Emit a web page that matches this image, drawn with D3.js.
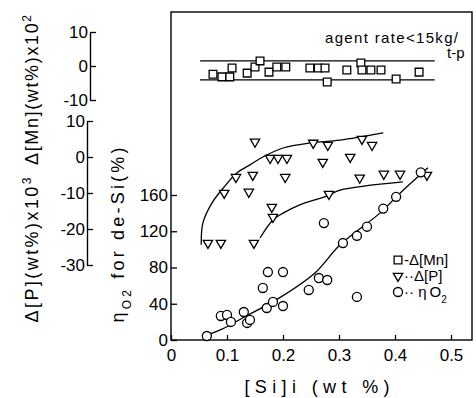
<!DOCTYPE html>
<html>
<head>
<meta charset="utf-8">
<script src="https://cdn.jsdelivr.net/npm/d3@7"></script>
<style>
  body { margin: 0; background: #fff; }
  svg { font-family: "Liberation Sans", "DejaVu Sans", sans-serif; }
</style>
</head>
<body>
<svg id="chart" width="476" height="398"></svg>
<script>
// [Si]i values and the three measured series
var siMn = [0.075, 0.091, 0.105, 0.109, 0.136, 0.150, 0.159, 0.175, 0.189, 0.205, 0.248, 0.263, 0.275, 0.279, 0.314, 0.339, 0.341, 0.357, 0.375, 0.402, 0.443];
var dMn  = [-2.4, -3.2, -3.2, -0.6, -2.1, -0.3, 1.5, -1.8, -0.3, -0.3, -0.6, -0.6, -0.6, -4.7, -1.2, 0.9, -1.2, -1.2, -1.2, -3.8, -1.8];

var siP = [0.150, 0.177, 0.191, 0.207, 0.254, 0.280, 0.341, 0.359, 0.271, 0.320, 0.116, 0.146, 0.204, 0.095, 0.139, 0.180, 0.182, 0.282, 0.337, 0.380, 0.409, 0.457, 0.066, 0.089, 0.148];
var dP  = [4.2, -0.3, -0.3, -0.3, 3.9, 3.3, 5.0, 3.3, -1.4, 0, -5.6, -5.0, -5.6, -10, -9.7, -13.9, -16.7, -10.3, -5.8, -4.7, -4.7, -5.0, -23.9, -23.9, -23.9];

var siEta = [0.064, 0.089, 0.100, 0.107, 0.130, 0.136, 0.141, 0.164, 0.173, 0.200, 0.171, 0.182, 0.200, 0.246, 0.264, 0.279, 0.332, 0.273, 0.307, 0.332, 0.350, 0.379, 0.402, 0.446];
var eta   = [4.4, 26.5, 27.6, 19.9, 30.9, 18.8, 22.1, 57.4, 75, 75, 35.3, 42, 37.5, 55.2, 68.4, 66.2, 47.5, 129, 107, 115, 125, 145, 158, 185];

// hand drawn trend lines
var mnBandX = [0.052, 0.471];
var mnBandTop = 1.5, mnBandBottom = -4.1;
var upperPx = [0.054, 0.057, 0.073, 0.095, 0.118, 0.141, 0.164, 0.200, 0.248, 0.302, 0.379];
var upperPy = [-24.4, -18.3, -12.8, -8.3, -4.4, -2.2, 0, 2.5, 3.9, 4.7, 6.7];
var lowerPx = [0.159, 0.182, 0.200, 0.230, 0.279, 0.302, 0.414];
var lowerPy = [-22.5, -17.5, -15.6, -13.3, -10.8, -9.2, -6.9];
var etaFitX = [0.064, 0.091, 0.127, 0.195, 0.257, 0.302, 0.373, 0.409, 0.459];
var etaFitY = [5.5, 12, 24, 47, 74, 105, 140, 162, 190];

// tick labels
var xTicks = [0, 0.1, 0.2, 0.3, 0.4, 0.5];
var etaTicks = [0, 40, 80, 120, 160];
var pTicks = [10, 0, -10, -20, -30];
var mnTicks = [10, 0, -10];

var svg = d3.select("#chart");

var x = d3.scaleLinear().domain([0, 0.5]).range([171, 451]);
var yEta = d3.scaleLinear().domain([0, 160]).range([340, 195]);
var yP = d3.scaleLinear().domain([-30, 10]).range([265, 121]);
var yMn = d3.scaleLinear().domain([-10, 10]).range([100, 32]);

// frame
svg.append("rect")
  .attr("x", x(0)).attr("y", 12)
  .attr("width", 472 - x(0)).attr("height", 340 - 12)
  .attr("fill", "none").attr("stroke", "#000").attr("stroke-width", 1.4);

function styleAxis(g, size) {
  g.attr("font-family", null).attr("font-size", size);
  g.selectAll("line").attr("stroke", "#000").attr("stroke-width", 1.3);
  g.selectAll("path").attr("stroke", "#000").attr("stroke-width", 1.4);
  g.selectAll("text").attr("fill", "#000");
}

// efficiency axis (on the frame)
var gEta = svg.append("g").attr("transform", "translate(" + x(0) + ",0)")
  .call(d3.axisRight(yEta).tickValues(etaTicks).tickSize(6).tickSizeOuter(0));
gEta.select(".domain").remove();
gEta.selectAll("text").attr("x", -3).attr("text-anchor", "end");
styleAxis(gEta, 17);

// x axis
var gX = svg.append("g").attr("transform", "translate(0,340)")
  .call(d3.axisBottom(x).tickValues(xTicks).tickSize(-5).tickSizeOuter(0)
    .tickFormat(function(d) { return d === 0 ? "0" : d3.format(".1f")(d); }));
gX.select(".domain").remove();
gX.selectAll("text").attr("y", 9);
styleAxis(gX, 17);

// left axes for Δ[P] and Δ[Mn]
var gP = svg.append("g").attr("transform", "translate(87,0)")
  .call(d3.axisRight(yP).tickValues(pTicks).tickSize(6).tickSizeOuter(0).tickFormat(String));
gP.selectAll("text").attr("x", -2).attr("text-anchor", "end");
styleAxis(gP, 17);

var gMn = svg.append("g").attr("transform", "translate(90,0)")
  .call(d3.axisRight(yMn).tickValues(mnTicks).tickSize(6).tickSizeOuter(0).tickFormat(String));
gMn.selectAll("text").attr("x", -2).attr("text-anchor", "end");
styleAxis(gMn, 17);

// trend lines
var line = d3.line().curve(d3.curveCatmullRom);
function drawLine(pts) {
  svg.append("path").attr("d", line(pts))
    .attr("fill", "none").attr("stroke", "#000").attr("stroke-width", 1.3);
}
drawLine(mnBandX.map(function(d) { return [x(d), yMn(mnBandTop)]; }));
drawLine(mnBandX.map(function(d) { return [x(d), yMn(mnBandBottom)]; }));
drawLine(upperPx.map(function(d, i) { return [x(d), yP(upperPy[i])]; }));
drawLine(lowerPx.map(function(d, i) { return [x(d), yP(lowerPy[i])]; }));
drawLine(etaFitX.map(function(d, i) { return [x(d), yEta(etaFitY[i])]; }));

// markers
var sq = d3.symbol().type(d3.symbolSquare).size(60);
var tri = d3.symbol().type(d3.symbolTriangle).size(38);
var circ = d3.symbol().type(d3.symbolCircle).size(64);

function marks(xs, ys, yScale, sym, rot) {
  svg.append("g").selectAll("path").data(xs).enter().append("path")
    .attr("d", sym)
    .attr("transform", function(d, i) {
      return "translate(" + x(d) + "," + yScale(ys[i]) + ")" + (rot ? " rotate(180)" : "");
    })
    .attr("fill", "#fff").attr("stroke", "#000").attr("stroke-width", 1.3);
}
marks(siMn, dMn, yMn, sq, false);
marks(siP, dP, yP, tri, true);
marks(siEta, eta, yEta, circ, false);

// axis titles
function vText(cx, cy, len, parts) {
  var t = svg.append("text")
    .attr("transform", "translate(" + cx + "," + cy + ") rotate(-90)")
    .attr("text-anchor", "middle").attr("font-size", 18)
    .attr("textLength", len).attr("lengthAdjust", "spacing");
  parts.forEach(function(p) {
    var s = t.append("tspan").text(p[0]);
    if (p[1]) s.attr("baseline-shift", p[1]).attr("font-size", 12);
  });
  return t;
}
vText(38, 250, 145, [["Δ[P](wt%)x10"], ["3", "super"]]);
vText(38, 90, 150, [["Δ[Mn](wt%)x10"], ["2", "super"]]);
vText(124, 235, 175, [["η"], ["O2", "sub"], [" for de-Si(%)"]]);

svg.append("text").attr("x", 317).attr("y", 393)
  .attr("text-anchor", "middle").attr("font-size", 18)
  .attr("textLength", 145).attr("lengthAdjust", "spacing")
  .text("[Si]i (wt %)");

svg.append("text").attr("x", 325).attr("y", 43).attr("font-size", 15)
  .attr("textLength", 133).attr("lengthAdjust", "spacing")
  .text("agent rate<15kg/");
svg.append("text").attr("x", 447).attr("y", 58).attr("font-size", 15).text("t-p");

// legend
var legY = [260, 276, 292];
var legSym = [sq, tri, circ];
var legText = ["-Δ[Mn]", "··Δ[P]", "··  η"];
legY.forEach(function(ly, i) {
  svg.append("path").attr("d", legSym[i])
    .attr("transform", "translate(398," + ly + ")" + (i === 1 ? " rotate(180)" : ""))
    .attr("fill", "#fff").attr("stroke", "#000").attr("stroke-width", 1.3);
  var t = svg.append("text").attr("x", 404).attr("y", ly + 5).attr("font-size", 15).text(legText[i]);
  if (i === 2) {
    t.append("tspan").text("O").attr("dx", 3);
    t.append("tspan").text("2").attr("font-size", 10).attr("baseline-shift", "sub");
  }
});
</script>
</body>
</html>
